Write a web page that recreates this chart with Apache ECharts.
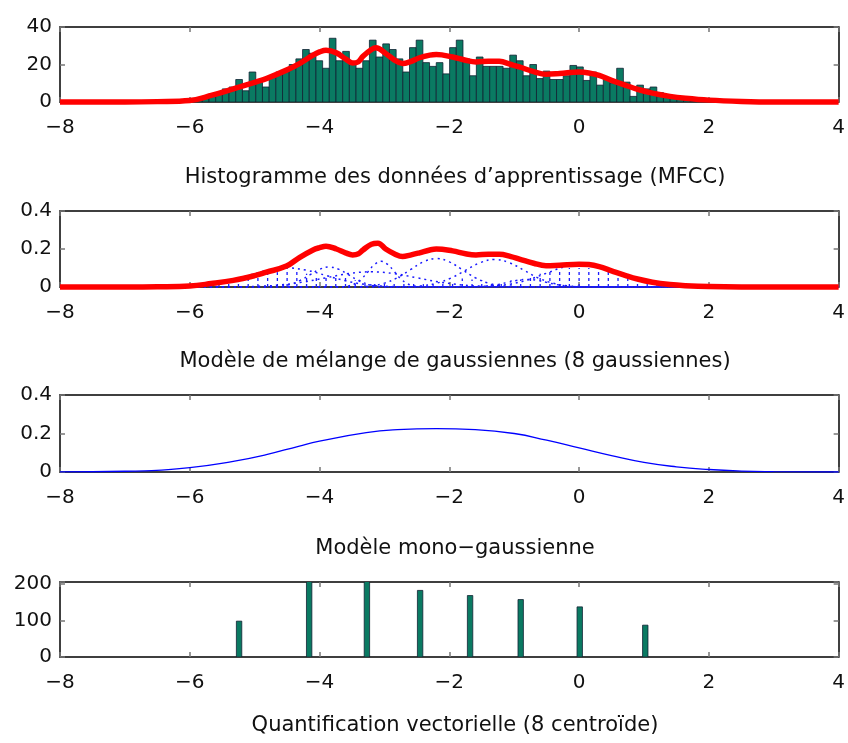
<!DOCTYPE html>
<html><head><meta charset="utf-8">
<script src="https://cdn.jsdelivr.net/npm/echarts@6/dist/echarts.min.js"></script>
<style>html,body{margin:0;padding:0;background:#fff}#c{width:848px;height:743px}</style>
</head><body><div id="c"></div>
<script>
// ---------- DATA ----------
const xTicks = [-8, -6, -4, -2, 0, 2, 4];
const titles = [
  "Histogramme des données d’apprentissage (MFCC)",
  "Modèle de mélange de gaussiennes (8 gaussiennes)",
  "Modèle mono−gaussienne",
  "Quantification vectorielle (8 centroïde)"
];
// histogram: first bin centre, bin width, counts
const histFirstCenter = -6.27;
const histBinWidth = 0.103;
const histCounts = [1,0,0.5,1,2,3,4.5,5,7,8,12,6,16,12,8,14,16,17,20,23,
  28,26,22,18,34,22,27,20,18,22,33,24,31,28,23,16,29,33,21,19,
  21,15,29,33,23,14,24,19,19,19,18,25,22,14,20,12.5,16.5,12,12,14,
  19.5,18.7,11.5,16,9,12.5,10,18,10.6,3,9,7,8,5,3.5,2,1.5,1,0.5,0.3,
  0,0,0,0,0,1];
// GMM density scaled to counts (panel 1)
const gmmCounts = [[-8,0],[-7,0],[-6.5,0.2],[-6,0.8],[-5.67,3.5],[-5.33,7],[-5,10.5],[-4.82,12.5],[-4.51,17],[-4.31,20.5],[-4.1,25],[-4,26.7],[-3.9,27.6],[-3.74,26.2],[-3.6,23],[-3.49,20.8],[-3.4,21.5],[-3.33,24.4],[-3.2,28],[-3.13,28.9],[-2.98,25.9],[-2.85,22.5],[-2.72,20.5],[-2.6,21.5],[-2.46,23.6],[-2.3,25],[-2.2,25.3],[-1.95,24],[-1.75,22.3],[-1.59,21.4],[-1.4,21.8],[-1.23,21.7],[-1.05,20],[-0.92,18.7],[-0.7,16.2],[-0.51,14.8],[-0.3,15.2],[0,16],[0.15,15.5],[0.31,14.2],[0.5,11.5],[0.72,8.9],[0.9,6.8],[1.13,4.7],[1.4,3],[1.64,2],[2,1],[2.5,0.3],[3,0],[4,0]];
// GMM density (panel 2)
const gmmTotal = [[-8,0],[-7,0],[-6.5,0.001],[-6,0.005],[-5.67,0.018],[-5.33,0.035],[-5,0.06],[-4.82,0.078],[-4.51,0.11],[-4.31,0.155],[-4.1,0.195],[-4,0.207],[-3.9,0.215],[-3.74,0.2],[-3.6,0.18],[-3.49,0.169],[-3.4,0.175],[-3.33,0.195],[-3.2,0.225],[-3.1,0.23],[-2.98,0.2],[-2.85,0.175],[-2.72,0.16],[-2.6,0.168],[-2.46,0.18],[-2.3,0.195],[-2.2,0.2],[-1.95,0.19],[-1.75,0.175],[-1.59,0.169],[-1.4,0.172],[-1.23,0.172],[-1.05,0.16],[-0.92,0.147],[-0.7,0.125],[-0.51,0.112],[-0.3,0.115],[0,0.12],[0.15,0.118],[0.31,0.107],[0.5,0.085],[0.72,0.06],[0.9,0.042],[1.13,0.025],[1.4,0.013],[1.64,0.007],[2,0.002],[2.5,0],[4,0]];
// the 8 weighted components (panel 2, dotted)
const gmmComp1 = [[-8,0],[-6.3,0.0011],[-6,0.0044],[-5.7,0.0135],[-5.4,0.0325],[-5.1,0.0607],[-4.8,0.0883],[-4.5,0.1],[-4.2,0.0883],[-3.9,0.0607],[-3.6,0.0325],[-3.3,0.0135],[-3,0.0044],[-2.7,0.0011],[4,0]];
const gmmComp2 = [[-8,0],[-4.75,0.0012],[-4.6,0.0046],[-4.45,0.0142],[-4.3,0.0341],[-4.15,0.0637],[-4,0.0927],[-3.85,0.105],[-3.7,0.0927],[-3.55,0.0637],[-3.4,0.0341],[-3.25,0.0142],[-3.1,0.0046],[-2.95,0.0012],[4,0]];
const gmmComp3 = [[-8,0],[-3.65,0.0015],[-3.55,0.0059],[-3.45,0.0183],[-3.35,0.0438],[-3.25,0.0819],[-3.15,0.1191],[-3.05,0.135],[-2.95,0.1191],[-2.85,0.0819],[-2.75,0.0438],[-2.65,0.0183],[-2.55,0.0059],[-2.45,0.0015],[4,0]];
const gmmComp4 = [[-8,0],[-3.4,0.0017],[-3.2,0.0066],[-3,0.0203],[-2.8,0.0487],[-2.6,0.091],[-2.4,0.1324],[-2.2,0.15],[-2,0.1324],[-1.8,0.091],[-1.6,0.0487],[-1.4,0.0203],[-1.2,0.0066],[-1,0.0017],[4,0]];
const gmmComp5 = [[-8,0],[-2.65,0.0016],[-2.425,0.0064],[-2.2,0.0196],[-1.975,0.047],[-1.75,0.0879],[-1.525,0.128],[-1.3,0.145],[-1.075,0.128],[-0.85,0.0879],[-0.625,0.047],[-0.4,0.0196],[-0.175,0.0064],[0.05,0.0016],[4,0]];
const gmmComp6 = [[-8,0],[-5.3,0.0009],[-4.95,0.0035],[-4.6,0.0108],[-4.25,0.026],[-3.9,0.0485],[-3.55,0.0706],[-3.2,0.08],[-2.85,0.0706],[-2.5,0.0485],[-2.15,0.026],[-1.8,0.0108],[-1.45,0.0035],[-1.1,0.0009],[4,0]];
const gmmComp7 = [[-8,0],[-1.6,0.0013],[-1.325,0.0053],[-1.05,0.0162],[-0.775,0.0389],[-0.5,0.0728],[-0.225,0.1059],[0.05,0.12],[0.325,0.1059],[0.6,0.0728],[0.875,0.0389],[1.15,0.0162],[1.425,0.0053],[1.7,0.0013],[4,0]];
const gmmComp8 = [[-8,0],[-1.7,0.0004],[-1.55,0.0018],[-1.4,0.0054],[-1.25,0.013],[-1.1,0.0243],[-0.95,0.0353],[-0.8,0.04],[-0.65,0.0353],[-0.5,0.0243],[-0.35,0.013],[-0.2,0.0054],[-0.05,0.0018],[0.1,0.0004],[4,0]];
// dotted vertical hatch marks under the mixture (panel 2): x start, step, heights
const hatchStart = -6.0;
const hatchStep = 0.15;
const hatchHeights = [0.003,0.006,0.01,0.02,0.033,0.045,0.055,0.065,0.073,0.078,0.083,0.08,0.07,0.062,0.06,0.055,0.05,0.035,0.03,0.03,
  0.025,0.02,0.02,0.018,0.015,0.015,0.02,0.03,0.045,0.04,0.035,0.03,0.03,0.035,0.04,0.05,0.07,0.085,0.095,0.1,
  0.1,0.1,0.095,0.085,0.07,0.055,0.04,0.03,0.02,0.012,0.006,0.003];
// single gaussian (panel 3)
const monoGauss = [[-8,0.0006],[-7,0.004],[-6,0.023],[-5.33,0.055],[-4.82,0.09],[-4.31,0.135],[-4,0.16],[-3.28,0.205],[-2.8,0.22],[-2.2,0.225],[-1.6,0.22],[-1,0.2],[-0.5,0.165],[0,0.125],[0.5,0.085],[1,0.05],[1.5,0.027],[2,0.013],[2.5,0.005],[3,0.002],[4,0]];
// VQ centroids and counts (panel 4)
const vqCentroids = [-5.24, -4.16, -3.27, -2.45, -1.68, -0.9, 0.01, 1.02];
const vqCounts = [98, 230, 230, 182, 168, 157, 137, 87];

// ---------- CHART ----------
const FONT = 'DejaVu Sans';
const grids = [
  {left: 60, right: 7, top: 27, height: 75},
  {left: 60, right: 7, top: 211, height: 76},
  {left: 60, right: 7, top: 395, height: 77},
  {left: 60, right: 7, top: 582, height: 75}
];
const yCfg = [
  {min: 0, max: 40, interval: 20, fmt: v => String(v)},
  {min: 0, max: 0.4, interval: 0.2, fmt: v => String(+v.toFixed(1))},
  {min: 0, max: 0.4, interval: 0.2, fmt: v => String(+v.toFixed(1))},
  {min: 0, max: 205, interval: 100, fmt: v => (v % 100 === 0 ? String(v) : '')}
];
const minus = s => s.replace('-', '\u2212');
const tickStyle = {show: true, inside: true, length: 5, lineStyle: {color: '#777', width: 1.5}};
const axLine = {show: true, onZero: false, lineStyle: {color: '#000', width: 1.5}};
const xAxes = [], yAxes = [];
grids.forEach((g, i) => {
  xAxes.push({type: 'value', gridIndex: i, min: -8, max: 4, interval: 2, position: 'bottom',
    axisLine: axLine, axisTick: tickStyle, splitLine: {show: false},
    axisLabel: {fontFamily: FONT, fontSize: 20, color: '#111', margin: 16, formatter: v => minus(String(v))}});
  xAxes.push({type: 'value', gridIndex: i, min: -8, max: 4, interval: 2, position: 'top',
    axisLine: axLine, axisTick: tickStyle, splitLine: {show: false}, axisLabel: {show: false}});
  const c = yCfg[i];
  yAxes.push({type: 'value', gridIndex: i, min: c.min, max: c.max, interval: c.interval, position: 'left',
    axisLine: axLine, axisTick: tickStyle, splitLine: {show: false},
    axisLabel: {fontFamily: FONT, fontSize: 20, color: '#111', margin: 8, formatter: c.fmt}});
  yAxes.push({type: 'value', gridIndex: i, min: c.min, max: c.max, interval: c.interval, position: 'right',
    axisLine: axLine, axisTick: tickStyle, splitLine: {show: false}, axisLabel: {show: false}});
});

const histData = histCounts.map((v, i) => [histFirstCenter + i * histBinWidth, v]);
const BAR_FILL = '#0a7a62';
const series = [];
series.push({type: 'custom', xAxisIndex: 0, yAxisIndex: 0, data: histData, clip: true,
  renderItem: (params, api) => {
    const x = api.value(0), v = api.value(1);
    if (v <= 0) return null;
    const p0 = api.coord([x - histBinWidth / 2, v]);
    const p1 = api.coord([x + histBinWidth / 2, 0]);
    return {type: 'rect', shape: {x: p0[0], y: p0[1], width: p1[0] - p0[0], height: p1[1] - p0[1]},
      style: {fill: BAR_FILL, stroke: '#123', lineWidth: 0.8}};
  }});
series.push({type: 'line', xAxisIndex: 0, yAxisIndex: 0, data: gmmCounts, smooth: 0.4, showSymbol: false,
  clip: false, lineStyle: {color: '#ff0000', width: 5.5}, z: 5});

const hatchData = hatchHeights.map((h, i) => [hatchStart + i * hatchStep, h]);
series.push({type: 'custom', xAxisIndex: 2, yAxisIndex: 2, data: hatchData, z: 3,
  renderItem: (params, api) => {
    const p0 = api.coord([api.value(0), 0]);
    const p1 = api.coord([api.value(0), api.value(1)]);
    return {type: 'line', shape: {x1: p0[0], y1: p0[1], x2: p1[0], y2: p1[1]},
      style: {stroke: '#1a1aff', lineWidth: 1.3, lineDash: [3, 3]}};
  }});
[gmmComp1, gmmComp2, gmmComp3, gmmComp4, gmmComp5, gmmComp6, gmmComp7, gmmComp8].forEach(comp => {
  series.push({type: 'line', xAxisIndex: 2, yAxisIndex: 2, data: comp, smooth: 0.4, showSymbol: false,
    lineStyle: {color: '#1a1aff', width: 1.5, type: [2, 4]}, z: 3});
});
series.push({type: 'line', xAxisIndex: 2, yAxisIndex: 2, data: gmmTotal, smooth: 0.4, showSymbol: false,
  clip: false, lineStyle: {color: '#ff0000', width: 5.5}, z: 5});

series.push({type: 'line', xAxisIndex: 4, yAxisIndex: 4, data: monoGauss, smooth: 0.5, showSymbol: false,
  lineStyle: {color: '#0000ff', width: 1.3}});

series.push({type: 'custom', xAxisIndex: 6, yAxisIndex: 6, data: vqCentroids.map((c, i) => [c, vqCounts[i]]), clip: true,
  renderItem: (params, api) => {
    const p0 = api.coord([api.value(0), api.value(1)]);
    const p1 = api.coord([api.value(0), 0]);
    return {type: 'rect', shape: {x: p0[0] - 2.7, y: p0[1], width: 5.4, height: p1[1] - p0[1]},
      style: {fill: BAR_FILL, stroke: '#123', lineWidth: 0.8}};
  }});

const titleY = [162, 346, 533, 710];
const chart = echarts.init(document.getElementById('c'), null, {renderer: 'canvas'});
chart.setOption({
  animation: false,
  backgroundColor: '#fff',
  title: titles.map((t, i) => ({text: t, left: 450, top: titleY[i], textAlign: 'center',
    textStyle: {fontFamily: FONT, fontSize: 21, fontWeight: 'normal', color: '#111'}})),
  grid: grids.map(g => ({...g, show: false})),
  xAxis: xAxes, yAxis: yAxes, series: series
});
</script></body></html>
